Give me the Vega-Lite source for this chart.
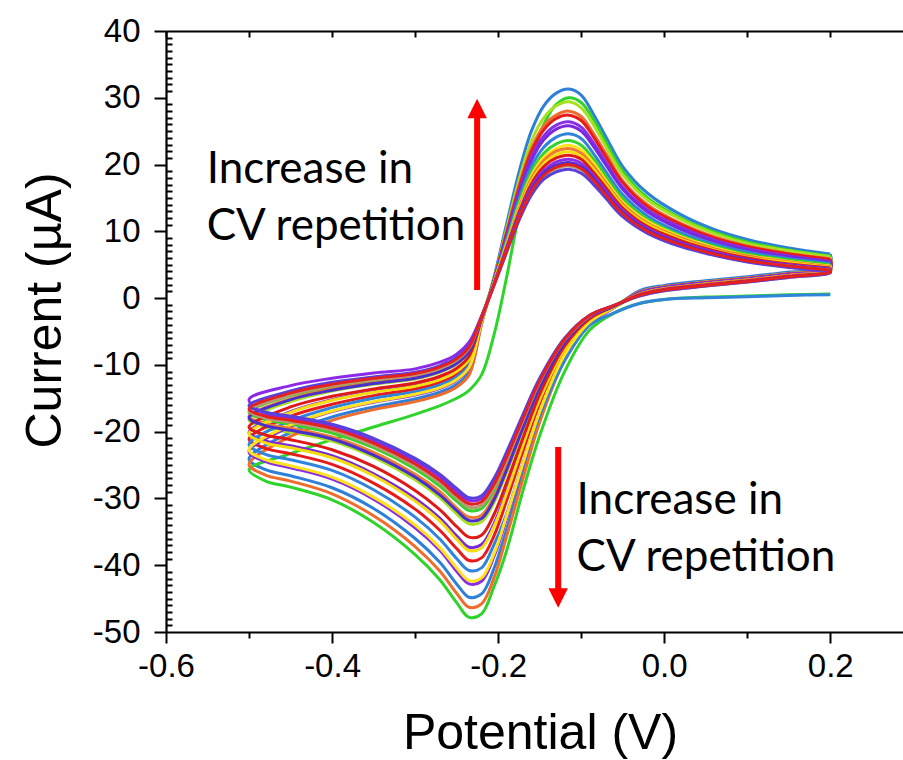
{
  "$schema": "https://vega.github.io/schema/vega-lite/v6.json",
  "width": 739,
  "height": 601,
  "autosize": {"type": "none"},
  "padding": {"left": 166, "top": 31, "right": 0, "bottom": 128},
  "background": "white",
  "config": {
    "view": {"stroke": null},
    "font": "Liberation Sans",
    "axis": {"grid": false, "domainColor": "black", "tickColor": "black", "labelColor": "black", "titleColor": "black", "domainWidth": 2.2, "tickWidth": 2, "titleFontWeight": "normal", "labelFont": "Liberation Sans", "titleFont": "Liberation Sans"}
  },
  "layer": [
    {
      "data": {"values": [
        {"i":0,"v":0.2,"c1":6.6,"c2":0.6,"c3":6.2,"c4":5.9,"c5":5.8,"c6":5.5,"c7":5.4,"c8":0.5,"c9":5.0,"c10":4.8,"c11":4.7,"c12":4.6,"c13":4.5,"c14":4.4,"c15":4.3,"c16":4.2,"c17":4.1,"c18":4.2},
        {"i":1,"v":0.2,"c1":4.6,"c2":0.6,"c3":4.4,"c4":4.4,"c5":4.3,"c6":4.3,"c7":4.2,"c8":0.5,"c9":4.1,"c10":4.1,"c11":4.1,"c12":4.0,"c13":4.0,"c14":3.9,"c15":3.9,"c16":3.8,"c17":3.8,"c18":3.9},
        {"i":2,"v":0.15,"c1":3.9,"c2":0.5,"c3":3.7,"c4":3.7,"c5":3.6,"c6":3.6,"c7":3.5,"c8":0.4,"c9":3.4,"c10":3.4,"c11":3.4,"c12":3.3,"c13":3.3,"c14":3.2,"c15":3.2,"c16":3.1,"c17":3.1,"c18":3.2},
        {"i":3,"v":0.1,"c1":3.2,"c2":0.3,"c3":3.0,"c4":3.0,"c5":2.9,"c6":2.9,"c7":2.8,"c8":0.2,"c9":2.7,"c10":2.7,"c11":2.7,"c12":2.6,"c13":2.6,"c14":2.5,"c15":2.5,"c16":2.4,"c17":2.4,"c18":2.5},
        {"i":4,"v":0.05,"c1":2.6,"c2":0.15,"c3":2.4,"c4":2.4,"c5":2.3,"c6":2.3,"c7":2.2,"c8":0.05,"c9":2.1,"c10":2.1,"c11":2.1,"c12":2.0,"c13":2.0,"c14":1.9,"c15":1.9,"c16":1.8,"c17":1.8,"c18":1.9},
        {"i":5,"v":0.0,"c1":1.9,"c2":-0.2,"c3":1.7,"c4":1.7,"c5":1.6,"c6":1.6,"c7":1.5,"c8":-0.2,"c9":1.4,"c10":1.4,"c11":1.4,"c12":1.3,"c13":1.3,"c14":1.2,"c15":1.2,"c16":1.1,"c17":1.1,"c18":1.2},
        {"i":6,"v":-0.03,"c1":1.1,"c2":-0.8,"c3":0.9,"c4":0.9,"c5":0.8,"c6":0.8,"c7":0.7,"c8":-0.8,"c9":0.6,"c10":0.6,"c11":0.6,"c12":0.5,"c13":0.5,"c14":0.4,"c15":0.4,"c16":0.3,"c17":0.3,"c18":0.4},
        {"i":7,"v":-0.06,"c1":-1.4,"c2":-2.2,"c3":-1.2,"c4":-1.4,"c5":-1.3,"c6":-1.4,"c7":-1.3,"c8":-2.2,"c9":-1.1,"c10":-1.4,"c11":-1.2,"c12":-1.3,"c13":-1.2,"c14":-1.1,"c15":-1.2,"c16":-1.1,"c17":-1.1,"c18":-1.1},
        {"i":8,"v":-0.09,"c1":-3.8,"c2":-4.8,"c3":-2.9,"c4":-4.0,"c5":-3.4,"c6":-3.7,"c7":-3.2,"c8":-4.1,"c9":-2.7,"c10":-3.6,"c11":-2.8,"c12":-3.2,"c13":-3.1,"c14":-2.6,"c15":-2.8,"c16":-2.7,"c17":-2.6,"c18":-2.6},
        {"i":9,"v":-0.12,"c1":-9.0,"c2":-11.0,"c3":-6.8,"c4":-9.3,"c5":-7.9,"c6":-8.6,"c7":-7.5,"c8":-9.4,"c9":-6.4,"c10":-8.5,"c11":-6.6,"c12":-7.6,"c13":-7.2,"c14":-6.1,"c15":-6.7,"c16":-6.3,"c17":-6.0,"c18":-6.2},
        {"i":10,"v":-0.15,"c1":-18.0,"c2":-20.6,"c3":-13.6,"c4":-18.6,"c5":-15.8,"c6":-17.2,"c7":-15.0,"c8":-17.6,"c9":-12.8,"c10":-17.0,"c11":-13.2,"c12":-15.2,"c13":-14.4,"c14":-12.2,"c15":-13.4,"c16":-12.6,"c17":-12.0,"c18":-12.4},
        {"i":11,"v":-0.17,"c1":-26.1,"c2":-28.8,"c3":-19.7,"c4":-27.0,"c5":-22.9,"c6":-24.9,"c7":-21.8,"c8":-24.6,"c9":-18.6,"c10":-24.7,"c11":-19.1,"c12":-22.0,"c13":-20.9,"c14":-17.7,"c15":-19.4,"c16":-18.3,"c17":-17.4,"c18":-18.0},
        {"i":12,"v":-0.19,"c1":-34.7,"c2":-37.9,"c3":-26.2,"c4":-35.8,"c5":-30.4,"c6":-33.1,"c7":-28.9,"c8":-32.4,"c9":-24.6,"c10":-32.7,"c11":-25.4,"c12":-29.3,"c13":-27.7,"c14":-23.5,"c15":-25.8,"c16":-24.3,"c17":-23.1,"c18":-23.9},
        {"i":13,"v":-0.205,"c1":-40.5,"c2":-43.2,"c3":-30.6,"c4":-41.9,"c5":-35.6,"c6":-38.7,"c7":-33.8,"c8":-36.9,"c9":-28.8,"c10":-38.3,"c11":-29.7,"c12":-34.2,"c13":-32.4,"c14":-27.5,"c15":-30.2,"c16":-28.4,"c17":-27.0,"c18":-27.9},
        {"i":14,"v":-0.22,"c1":-44.3,"c2":-47.3,"c3":-33.5,"c4":-45.8,"c5":-38.9,"c6":-42.4,"c7":-36.9,"c8":-40.4,"c9":-31.5,"c10":-41.9,"c11":-32.5,"c12":-37.4,"c13":-35.5,"c14":-30.0,"c15":-33.0,"c16":-31.0,"c17":-29.6,"c18":-30.5},
        {"i":15,"v":-0.235,"c1":-44.8,"c2":-47.8,"c3":-33.8,"c4":-46.3,"c5":-39.3,"c6":-42.8,"c7":-37.3,"c8":-40.8,"c9":-31.8,"c10":-42.3,"c11":-32.8,"c12":-37.8,"c13":-35.8,"c14":-30.3,"c15":-33.3,"c16":-31.3,"c17":-29.9,"c18":-30.8},
        {"i":16,"v":-0.25,"c1":-42.8,"c2":-45.6,"c3":-32.3,"c4":-44.2,"c5":-37.5,"c6":-40.9,"c7":-35.6,"c8":-39.0,"c9":-30.4,"c10":-40.4,"c11":-31.4,"c12":-36.1,"c13":-34.2,"c14":-29.0,"c15":-31.8,"c16":-29.9,"c17":-28.5,"c18":-29.5},
        {"i":17,"v":-0.27,"c1":-39.6,"c2":-42.2,"c3":-29.9,"c4":-40.9,"c5":-34.8,"c6":-37.8,"c7":-33.0,"c8":-36.1,"c9":-28.2,"c10":-37.4,"c11":-29.0,"c12":-33.4,"c13":-31.7,"c14":-26.8,"c15":-29.5,"c16":-27.7,"c17":-26.4,"c18":-27.3},
        {"i":18,"v":-0.3,"c1":-36.0,"c2":-38.4,"c3":-27.2,"c4":-37.2,"c5":-31.6,"c6":-34.4,"c7":-30.0,"c8":-32.8,"c9":-25.6,"c10":-34.0,"c11":-26.4,"c12":-30.4,"c13":-28.8,"c14":-24.4,"c15":-26.8,"c16":-25.2,"c17":-24.0,"c18":-24.8},
        {"i":19,"v":-0.35,"c1":-31.5,"c2":-33.6,"c3":-23.8,"c4":-32.6,"c5":-27.7,"c6":-30.1,"c7":-26.3,"c8":-28.7,"c9":-22.4,"c10":-29.8,"c11":-23.1,"c12":-26.6,"c13":-25.2,"c14":-21.4,"c15":-23.5,"c16":-22.1,"c17":-21.0,"c18":-21.7},
        {"i":20,"v":-0.4,"c1":-28.4,"c2":-30.2,"c3":-21.4,"c4":-29.3,"c5":-24.9,"c6":-27.1,"c7":-23.6,"c8":-25.8,"c9":-20.2,"c10":-26.8,"c11":-20.8,"c12":-23.9,"c13":-22.7,"c14":-19.2,"c15":-21.1,"c16":-19.8,"c17":-18.9,"c18":-19.5},
        {"i":21,"v":-0.45,"c1":-26.6,"c2":-28.3,"c3":-20.1,"c4":-27.4,"c5":-23.3,"c6":-25.4,"c7":-22.1,"c8":-24.2,"c9":-18.9,"c10":-25.1,"c11":-19.5,"c12":-22.4,"c13":-21.2,"c14":-18.0,"c15":-19.8,"c16":-18.6,"c17":-17.7,"c18":-18.3},
        {"i":22,"v":-0.48,"c1":-25.7,"c2":-27.4,"c3":-19.4,"c4":-26.5,"c5":-22.5,"c6":-24.5,"c7":-21.4,"c8":-23.4,"c9":-18.2,"c10":-24.2,"c11":-18.8,"c12":-21.7,"c13":-20.5,"c14":-17.4,"c15":-19.1,"c16":-18.0,"c17":-17.1,"c18":-17.7},
        {"i":23,"v":-0.5,"c1":-24.1,"c2":-25.7,"c3":-18.2,"c4":-24.9,"c5":-21.1,"c6":-23.0,"c7":-20.1,"c8":-21.9,"c9":-17.1,"c10":-22.7,"c11":-17.7,"c12":-20.3,"c13":-19.3,"c14":-15.2,"c15":-17.9,"c16":-16.9,"c17":-16.1,"c18":-16.6},
        {"i":24,"v":-0.45,"c1":-20.1,"c2":-23.3,"c3":-15.5,"c4":-20.7,"c5":-17.7,"c6":-19.2,"c7":-17.0,"c8":-18.4,"c9":-14.6,"c10":-19.0,"c11":-15.1,"c12":-17.1,"c13":-16.3,"c14":-13.1,"c15":-15.2,"c16":-14.5,"c17":-13.9,"c18":-14.2},
        {"i":25,"v":-0.4,"c1":-17.8,"c2":-21.2,"c3":-13.9,"c4":-18.3,"c5":-15.9,"c6":-17.0,"c7":-15.2,"c8":-16.4,"c9":-13.3,"c10":-16.9,"c11":-13.6,"c12":-15.3,"c13":-14.7,"c14":-12.0,"c15":-13.8,"c16":-13.1,"c17":-12.6,"c18":-12.9},
        {"i":26,"v":-0.35,"c1":-16.3,"c2":-19.3,"c3":-12.9,"c4":-16.7,"c5":-14.6,"c6":-15.6,"c7":-14.0,"c8":-15.0,"c9":-12.3,"c10":-15.5,"c11":-12.7,"c12":-14.1,"c13":-13.6,"c14":-11.2,"c15":-12.8,"c16":-12.2,"c17":-11.8,"c18":-12.0},
        {"i":27,"v":-0.3,"c1":-15.1,"c2":-17.4,"c3":-12.1,"c4":-15.5,"c5":-13.6,"c6":-14.5,"c7":-13.1,"c8":-14.0,"c9":-11.6,"c10":-14.4,"c11":-11.9,"c12":-13.2,"c13":-12.7,"c14":-10.6,"c15":-12.0,"c16":-11.5,"c17":-11.1,"c18":-11.3},
        {"i":28,"v":-0.27,"c1":-14.1,"c2":-16.1,"c3":-11.1,"c4":-14.5,"c5":-12.6,"c6":-13.5,"c7":-12.1,"c8":-13.0,"c9":-10.6,"c10":-13.4,"c11":-10.9,"c12":-12.2,"c13":-11.7,"c14":-9.6,"c15":-11.0,"c16":-10.5,"c17":-10.1,"c18":-10.3},
        {"i":29,"v":-0.25,"c1":-12.9,"c2":-15.0,"c3":-9.9,"c4":-13.3,"c5":-11.4,"c6":-12.3,"c7":-10.9,"c8":-11.8,"c9":-9.4,"c10":-12.2,"c11":-9.7,"c12":-11.0,"c13":-10.5,"c14":-8.4,"c15":-9.8,"c16":-9.3,"c17":-8.9,"c18":-9.1},
        {"i":30,"v":-0.235,"c1":-11.1,"c2":-13.8,"c3":-8.1,"c4":-11.5,"c5":-9.6,"c6":-10.5,"c7":-9.1,"c8":-10.0,"c9":-7.6,"c10":-10.4,"c11":-7.9,"c12":-9.2,"c13":-8.7,"c14":-6.6,"c15":-8.0,"c16":-7.5,"c17":-7.1,"c18":-7.3},
        {"i":31,"v":-0.22,"c1":-3.8,"c2":-11.5,"c3":-3.0,"c4":-3.9,"c5":-3.4,"c6":-3.6,"c7":-3.3,"c8":-3.5,"c9":-2.9,"c10":-3.6,"c11":-3.0,"c12":-3.3,"c13":-3.2,"c14":-2.7,"c15":-3.0,"c16":-2.9,"c17":-2.8,"c18":-2.8},
        {"i":32,"v":-0.205,"c1":3.1,"c2":-5.5,"c3":2.9,"c4":2.8,"c5":2.7,"c6":2.6,"c7":2.6,"c8":2.5,"c9":2.4,"c10":2.3,"c11":2.2,"c12":2.2,"c13":2.1,"c14":2.1,"c15":2.0,"c16":2.0,"c17":1.9,"c18":2.0},
        {"i":33,"v":-0.19,"c1":11.0,"c2":3.0,"c3":10.3,"c4":9.8,"c5":9.6,"c6":9.2,"c7":9.0,"c8":8.6,"c9":8.3,"c10":8.0,"c11":7.8,"c12":7.7,"c13":7.5,"c14":7.3,"c15":7.1,"c16":6.9,"c17":6.8,"c18":7.0},
        {"i":34,"v":-0.175,"c1":18.8,"c2":12.5,"c3":17.6,"c4":16.8,"c5":16.4,"c6":15.8,"c7":15.5,"c8":14.8,"c9":14.2,"c10":13.7,"c11":13.4,"c12":13.1,"c13":12.8,"c14":12.5,"c15":12.2,"c16":11.9,"c17":11.6,"c18":12.0},
        {"i":35,"v":-0.16,"c1":25.0,"c2":20.5,"c3":23.5,"c4":22.4,"c5":21.9,"c6":21.1,"c7":20.6,"c8":19.7,"c9":18.9,"c10":18.3,"c11":17.9,"c12":17.5,"c13":17.1,"c14":16.6,"c15":16.2,"c16":15.8,"c17":15.4,"c18":16.0},
        {"i":36,"v":-0.145,"c1":28.8,"c2":26.0,"c3":27.0,"c4":25.8,"c5":25.2,"c6":24.3,"c7":23.7,"c8":22.6,"c9":21.7,"c10":21.1,"c11":20.6,"c12":20.1,"c13":19.7,"c14":19.1,"c15":18.7,"c16":18.2,"c17":17.8,"c18":18.4},
        {"i":37,"v":-0.13,"c1":30.7,"c2":29.0,"c3":28.8,"c4":27.4,"c5":26.9,"c6":25.9,"c7":25.3,"c8":24.1,"c9":23.1,"c10":22.4,"c11":22.0,"c12":21.5,"c13":21.0,"c14":20.4,"c15":19.9,"c16":19.4,"c17":18.9,"c18":19.6},
        {"i":38,"v":-0.115,"c1":31.3,"c2":30.0,"c3":29.4,"c4":28.0,"c5":27.4,"c6":26.4,"c7":25.8,"c8":24.6,"c9":23.6,"c10":22.9,"c11":22.4,"c12":21.9,"c13":21.4,"c14":20.8,"c15":20.3,"c16":19.8,"c17":19.3,"c18":20.0},
        {"i":39,"v":-0.1,"c1":30.4,"c2":29.3,"c3":28.5,"c4":27.2,"c5":26.6,"c6":25.6,"c7":25.0,"c8":23.9,"c9":22.9,"c10":22.2,"c11":21.7,"c12":21.2,"c13":20.8,"c14":20.2,"c15":19.7,"c16":19.2,"c17":18.7,"c18":19.4},
        {"i":40,"v":-0.085,"c1":27.5,"c2":26.7,"c3":25.9,"c4":24.6,"c5":24.1,"c6":23.2,"c7":22.7,"c8":21.6,"c9":20.8,"c10":20.2,"c11":19.7,"c12":19.3,"c13":18.8,"c14":18.3,"c15":17.9,"c16":17.4,"c17":17.0,"c18":17.6},
        {"i":41,"v":-0.07,"c1":24.1,"c2":23.3,"c3":22.6,"c4":21.6,"c5":21.1,"c6":20.3,"c7":19.9,"c8":18.9,"c9":18.2,"c10":17.6,"c11":17.2,"c12":16.9,"c13":16.5,"c14":16.0,"c15":15.6,"c16":15.2,"c17":14.9,"c18":15.4},
        {"i":42,"v":-0.05,"c1":19.7,"c2":19.0,"c3":18.5,"c4":17.6,"c5":17.3,"c6":16.6,"c7":16.3,"c8":15.5,"c9":14.9,"c10":14.4,"c11":14.1,"c12":13.8,"c13":13.5,"c14":13.1,"c15":12.8,"c16":12.5,"c17":12.2,"c18":12.6},
        {"i":43,"v":-0.02,"c1":15.7,"c2":15.0,"c3":14.7,"c4":14.0,"c5":13.7,"c6":13.2,"c7":12.9,"c8":12.3,"c9":11.8,"c10":11.5,"c11":11.2,"c12":11.0,"c13":10.7,"c14":10.4,"c15":10.2,"c16":9.9,"c17":9.7,"c18":10.0},
        {"i":44,"v":0.02,"c1":12.5,"c2":12.0,"c3":11.8,"c4":11.2,"c5":11.0,"c6":10.6,"c7":10.3,"c8":9.8,"c9":9.4,"c10":9.2,"c11":9.0,"c12":8.8,"c13":8.6,"c14":8.3,"c15":8.1,"c16":7.9,"c17":7.7,"c18":8.0},
        {"i":45,"v":0.06,"c1":10.3,"c2":9.9,"c3":9.7,"c4":9.2,"c5":9.0,"c6":8.7,"c7":8.5,"c8":8.1,"c9":7.8,"c10":7.6,"c11":7.4,"c12":7.2,"c13":7.1,"c14":6.9,"c15":6.7,"c16":6.5,"c17":6.4,"c18":6.6},
        {"i":46,"v":0.1,"c1":8.8,"c2":8.4,"c3":8.2,"c4":7.8,"c5":7.7,"c6":7.4,"c7":7.2,"c8":6.9,"c9":6.6,"c10":6.4,"c11":6.3,"c12":6.1,"c13":6.0,"c14":5.8,"c15":5.7,"c16":5.5,"c17":5.4,"c18":5.6},
        {"i":47,"v":0.15,"c1":7.5,"c2":7.2,"c3":7.1,"c4":6.7,"c5":6.6,"c6":6.3,"c7":6.2,"c8":5.9,"c9":5.7,"c10":5.5,"c11":5.4,"c12":5.3,"c13":5.1,"c14":5.0,"c15":4.9,"c16":4.8,"c17":4.6,"c18":4.8},
        {"i":48,"v":0.2,"c1":6.6,"c2":6.3,"c3":6.2,"c4":5.9,"c5":5.8,"c6":5.5,"c7":5.4,"c8":5.2,"c9":5.0,"c10":4.8,"c11":4.7,"c12":4.6,"c13":4.5,"c14":4.4,"c15":4.3,"c16":4.2,"c17":4.1,"c18":4.2}
      ]},
      "transform": [{"fold": ["c1","c2","c3","c4","c5","c6","c7","c8","c9","c10","c11","c12","c13","c14","c15","c16","c17","c18"], "as": ["curve", "current"]}],
      "mark": {"type": "line", "strokeWidth": 3, "interpolate": "catmull-rom"},
      "encoding": {
        "x": {"field": "v", "type": "quantitative", "scale": {"domain": [-0.6, 0.29], "nice": false, "zero": false},
          "axis": {"orient": "bottom", "values": [-0.6,-0.5,-0.4,-0.3,-0.2,-0.1,0,0.1,0.2],
            "tickSize": {"condition": {"test": "round(datum.value*10)%2==0", "value": 11}, "value": 6},
            "labelExpr": "round(datum.value*10)%2==0 ? (datum.value<0?'-':'') + format(abs(datum.value),'.1f') : ''",
            "labelFontSize": 33, "labelPadding": 7, "labelFlush": false, "labelOverlap": false, "labelBound": false,
            "title": "Potential (V)", "titleFontSize": 50, "titleX": 374, "titleY": 116, "titleAlign": "center", "titleBaseline": "alphabetic"}},
        "y": {"field": "current", "type": "quantitative", "scale": {"domain": [-50, 40], "nice": false, "zero": false},
          "axis": {"orient": "left", "values": [-50,-49,-48,-47,-46,-45,-44,-43,-42,-41,-40,-39,-38,-37,-36,-35,-34,-33,-32,-31,-30,-29,-28,-27,-26,-25,-24,-23,-22,-21,-20,-19,-18,-17,-16,-15,-14,-13,-12,-11,-10,-9,-8,-7,-6,-5,-4,-3,-2,-1,0,1,2,3,4,5,6,7,8,9,10,11,12,13,14,15,16,17,18,19,20,21,22,23,24,25,26,27,28,29,30,31,32,33,34,35,36,37,38,39,40],
            "tickSize": {"condition": {"test": "datum.value%10==0", "value": 12}, "value": -6},
            "labelExpr": "datum.value%10==0 ? (datum.value<0?'-':'') + abs(datum.value) : ''",
            "labelFontSize": 33, "labelPadding": 14, "labelFlush": false, "labelOverlap": false, "labelBound": false, "labelBaseline": "middle",
            "title": "Current (µA)", "titleFontSize": 50, "titleX": -106, "titleY": 279, "titleAngle": -90, "titleAlign": "center", "titleBaseline": "alphabetic"}},
        "color": {"field": "curve", "type": "nominal", "legend": null,
          "scale": {"domain": ["c1","c2","c3","c4","c5","c6","c7","c8","c9","c10","c11","c12","c13","c14","c15","c16","c17","c18"],
            "range": ["#2e7fd8","#2fd42a","#a8e020","#ee6c2c","#e81a1a","#8a2ee6","#7a28e0","#3184dc","#35d12d","#ffe31a","#f07a30","#f3dc10","#e01818","#8b2be8","#4a2fcf","#b89a70","#5840dc","#e52020"]}},
        "order": {"field": "i", "type": "quantitative"}
      }
    },
    {
      "data": {"values": [
        {"x": -0.2253, "y": 1.2, "y2": 27.5},
        {"x": -0.1277, "y": -22.3, "y2": -44.0}
      ]},
      "mark": {"type": "rule", "strokeWidth": 6, "color": "#ff0000"},
      "encoding": {
        "x": {"field": "x", "type": "quantitative", "axis": {"orient": "top", "values": [-0.6,-0.5,-0.4,-0.3,-0.2,-0.1,0,0.1,0.2], "tickSize": -6, "labels": false, "title": null}},
        "y": {"field": "y", "type": "quantitative", "axis": null},
        "y2": {"field": "y2"}
      }
    },
    {
      "data": {"values": [
        {"x": -0.2253, "y": 28.4, "d": "up"},
        {"x": -0.1277, "y": -44.9, "d": "down"}
      ]},
      "mark": {"type": "point", "filled": true, "opacity": 1, "color": "#ff0000", "size": 380, "strokeWidth": 0},
      "encoding": {
        "x": {"field": "x", "type": "quantitative", "axis": null},
        "y": {"field": "y", "type": "quantitative", "axis": null},
        "shape": {"field": "d", "type": "nominal", "legend": null, "scale": {"domain": ["up", "down"], "range": ["M0,-1L1,1L-1,1Z", "M0,1L1,-1L-1,-1Z"]}}
      }
    },
    {
      "data": {"values": [
        {"x": -0.551, "y": 17.3, "t": "Increase in"},
        {"x": -0.551, "y": 8.7, "t": "CV repetition"},
        {"x": -0.1055, "y": -32.3, "t": "Increase in"},
        {"x": -0.1055, "y": -40.8, "t": "CV repetition"}
      ]},
      "mark": {"type": "text", "font": "Lato", "fontSize": 44, "align": "left", "baseline": "alphabetic", "color": "black"},
      "encoding": {
        "x": {"field": "x", "type": "quantitative", "axis": null},
        "y": {"field": "y", "type": "quantitative", "axis": null},
        "text": {"field": "t"}
      }
    }
  ],
  "resolve": {"axis": {"x": "independent", "y": "independent"}}
}
